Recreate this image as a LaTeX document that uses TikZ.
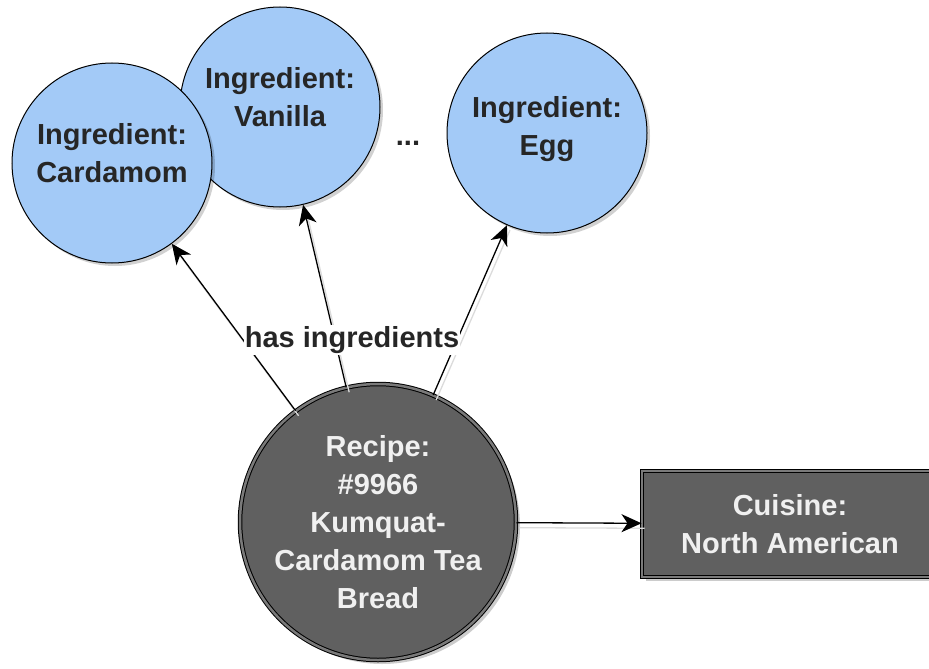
\documentclass[tikz,border=0pt]{standalone}
\usepackage{fontspec}
\setmainfont{Liberation Sans}
\usetikzlibrary{arrows.meta,shadows}
\definecolor{ingblue}{HTML}{A3CAF7}
\definecolor{darkfill}{HTML}{606060}
\definecolor{ringgray}{HTML}{7A7A7A}
\tikzset{
  lbl/.style={font=\fontsize{29}{38}\selectfont\bfseries, align=center},
  ingnode/.style={circle, draw=black, line width=1pt, fill=ingblue, minimum size=200pt, inner sep=-20pt, lbl, text=black!85,
    drop shadow={shadow xshift=3pt, shadow yshift=-3pt, fill=black, opacity=0.18}},
  darknode/.style={draw=black, line width=1pt, double=ringgray, double distance=2.5pt, fill=darkfill, lbl, text=white!94!black,
    drop shadow={shadow xshift=4pt, shadow yshift=-4pt, fill=black, opacity=0.2}},
  conn/.style={-{Stealth[length=20pt,width=18pt,inset=6pt]}, line width=1.3pt, black,
    preaction={draw=black!14, line width=1.3pt, -, transform canvas={xshift=3pt, yshift=-5pt}}}
}
\begin{document}
\begin{tikzpicture}[x=1pt,y=-1pt]
\useasboundingbox (0,0) rectangle (929,669);
\node[ingnode] (van) at (280,107) {Ingredient:\\Vanilla\\[-18pt]\mbox{}};
\node[ingnode] (card) at (112,163) {Ingredient:\\Cardamom\\[-18pt]\mbox{}};
\node[ingnode] (egg) at (547,133) {Ingredient:\\Egg\\[-24pt]\mbox{}};
\node[lbl, text=black!85] (dots) at (408,143) {...};
\node[darknode, circle, minimum size=276pt, inner sep=-25pt] (rec) at (378,522)
  {\fontsize{29}{37}\selectfont Recipe:\\\#9966\\Kumquat-\\Cardamom Tea\\Bread};
\node[darknode, rectangle, minimum width=296pt, minimum height=106pt, inner sep=0pt] (cui) at (790,524)
  {\fontsize{29}{35}\selectfont Cuisine:\\North American};
\draw[conn] (rec) -- (card);
\draw[conn] (rec) -- (van);
\draw[conn] (rec) -- (egg);
\draw[conn] (rec) -- (cui);
\node[lbl, fill=white, inner sep=1pt, text=black!85] (hasing) at (352,340) {has ingredients};
\end{tikzpicture}
\end{document}
